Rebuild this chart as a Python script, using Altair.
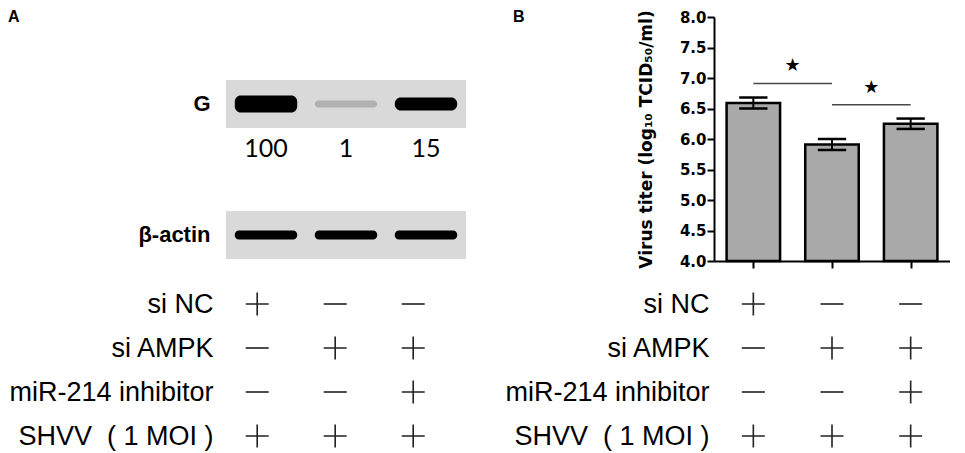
import altair as alt
import pandas as pd

# ---------------- data ----------------
lanes = [1, 2, 3]
blot_rows = ["G", "β-actin"]
g_quant = ["100", "1", "15"]
g_density = [1.0, 0.1, 0.65]
actin_density = [0.92, 0.95, 0.93]

groups = [1, 2, 3]
titer_mean = [6.59, 5.91, 6.25]
titer_err = [0.09, 0.09, 0.085]
sig_from = [1, 2]
sig_to = [2, 3]
sig_level = [6.91, 6.56]
y_ticks = [4.0, 4.5, 5.0, 5.5, 6.0, 6.5, 7.0, 7.5, 8.0]

cond_rows = ["si NC", "si AMPK", "miR-214 inhibitor", "SHVV\u00a0\u00a0(\u00a01 MOI\u00a0)"]
cond_signs = [["+", "−", "−"],
              ["−", "+", "+"],
              ["−", "−", "+"],
              ["+", "+", "+"]]

PLUS = "M-1,0H1M0,-1V1"
MINUS = "M-1,0H1"
SANS = "Liberation Sans"
BOLD_AX = "DejaVu Sans"

# ---------------- tables ----------------
bg_df = pd.DataFrame({"row": blot_rows})
g_df = pd.DataFrame({"lane": lanes, "density": g_density, "quant": g_quant, "row": "G"})
a_df = pd.DataFrame({"lane": lanes, "density": actin_density, "row": "β-actin"})
bar_df = pd.DataFrame({"group": groups, "mean": titer_mean, "err": titer_err})
sig_df = pd.DataFrame({"a": sig_from, "b": sig_to, "level": sig_level})
cond_df = pd.DataFrame([
    {"row": r, "col": c + 1, "sign": cond_signs[i][c]}
    for i, r in enumerate(cond_rows) for c in range(3)
])

# ---------------- panel A: blots ----------------
blot_x = alt.Scale(domain=[0.5, 3.5], nice=False, zero=False)
blot_y = alt.Scale(type="band", domain=blot_rows, paddingInner=0.634,
                   paddingOuter=0.248, align=0.97)
blot_yaxis = alt.Axis(title=None, domain=False, ticks=False, grid=False,
                      labelFont=SANS, labelFontSize=22, labelFontWeight="bold",
                      labelColor="black", labelPadding=16, labelLimit=0)
dens_color = alt.Color("density:Q", legend=None,
                       scale=alt.Scale(domain=[0, 0.6], range=["#d9d9d9", "#000000"], clamp=True))

bg = alt.Chart(bg_df).mark_rect(color="#d9d9d9").encode(
    y=alt.Y("row:N", scale=blot_y, axis=blot_yaxis, sort=None),
    x=alt.value(0), x2=alt.value("width"),
)
g_bands = alt.Chart(g_df).transform_calculate(
    x0="datum.lane - 0.39", x1="datum.lane + 0.39"
).mark_bar(cornerRadius=6).encode(
    x=alt.X("x0:Q", scale=blot_x, axis=None), x2="x1:Q",
    y=alt.Y("row:N", scale=blot_y, axis=blot_yaxis, sort=None),
    size=alt.Size("density:Q", legend=None, scale=alt.Scale(domain=[0, 1], range=[6, 17])),
    color=dens_color,
)
a_bands = alt.Chart(a_df).transform_calculate(
    x0="datum.lane - 0.39", x1="datum.lane + 0.39"
).mark_bar(cornerRadius=4, size=9).encode(
    x=alt.X("x0:Q", scale=blot_x, axis=None), x2="x1:Q",
    y=alt.Y("row:N", scale=blot_y, axis=blot_yaxis, sort=None),
    color=dens_color,
)
nums = alt.Chart(g_df).mark_text(font="Lato", fontSize=25, color="black", dy=45).encode(
    x=alt.X("lane:Q", scale=blot_x, axis=None),
    y=alt.Y("row:N", scale=blot_y, axis=blot_yaxis, sort=None),
    text="quant:N",
)
blot = alt.layer(bg, g_bands, a_bands, nums).properties(
    width=240, height=244,
    title=alt.Title("A", anchor="start", frame="group", dx=-218, dy=21, offset=0,
                    baseline="alphabetic", font=SANS, fontSize=16,
                    fontWeight="bold", color="black"),
)

# ---------------- panel B: bar chart ----------------
bx = alt.Scale(domain=[0.5, 3.5], nice=False, zero=False)
by = alt.Scale(domain=[4, 8], nice=False, zero=False)
xaxis = alt.Axis(values=[1, 2, 3], labels=False, title=None, grid=False,
                 domainColor="black", domainWidth=2, tickColor="black",
                 tickWidth=2, tickSize=7)
yaxis = alt.Axis(values=y_ticks, format=".1f",
                 title="Virus titer (log₁₀ TCID₅₀/ml)",
                 grid=False, domainColor="black", domainWidth=2, tickColor="black",
                 tickWidth=2, tickSize=7, labelPadding=1, labelFont=BOLD_AX,
                 labelFontSize=15, labelFontWeight="bold", labelColor="black",
                 labelOverlap=False,
                 titleFont=BOLD_AX, titleFontSize=17, titleFontWeight="bold",
                 titleColor="black", titlePadding=24)

bars = alt.Chart(bar_df).transform_calculate(
    x0="datum.group - 0.34", x1="datum.group + 0.34"
).mark_rect(color="#a9a9a9", stroke="black", strokeWidth=2.5).encode(
    x=alt.X("x0:Q", scale=bx, axis=xaxis), x2="x1:Q",
    y=alt.Y("mean:Q", scale=by, axis=yaxis), y2=alt.value("height"),
)
err_v = alt.Chart(bar_df).transform_calculate(
    lo="datum.mean - datum.err", hi="datum.mean + datum.err"
).mark_rule(color="black", strokeWidth=2).encode(
    x=alt.X("group:Q", scale=bx, axis=xaxis),
    y=alt.Y("lo:Q", scale=by, axis=yaxis), y2="hi:Q",
)
err_caps = alt.Chart(bar_df).transform_calculate(
    lo="datum.mean - datum.err", hi="datum.mean + datum.err",
    c0="datum.group - 0.18", c1="datum.group + 0.18"
).transform_fold(["lo", "hi"], as_=["end", "yv"]).mark_rule(
    color="black", strokeWidth=2.5
).encode(
    x=alt.X("c0:Q", scale=bx, axis=xaxis), x2="c1:Q",
    y=alt.Y("yv:Q", scale=by, axis=yaxis),
)
sig_lines = alt.Chart(sig_df).mark_rule(color="#4a4a4a", strokeWidth=1.5).encode(
    x=alt.X("a:Q", scale=bx, axis=xaxis), x2="b:Q",
    y=alt.Y("level:Q", scale=by, axis=yaxis),
)
stars = alt.Chart(sig_df).transform_calculate(
    mid="(datum.a + datum.b) / 2"
).mark_text(text="★", font=BOLD_AX, fontSize=18, color="black", dy=-17).encode(
    x=alt.X("mid:Q", scale=bx, axis=xaxis), y=alt.Y("level:Q", scale=by, axis=yaxis),
)
bar = alt.layer(bars, err_v, err_caps, sig_lines, stars).properties(
    width=236, height=244,
    title=alt.Title("B", anchor="start", frame="group", dx=-201, dy=28, offset=0,
                    baseline="alphabetic", font=SANS, fontSize=16,
                    fontWeight="bold", color="black"),
)

# ---------------- condition tables ----------------
def cond_table(domain, width, pad):
    return alt.Chart(cond_df).mark_point(
        filled=False, color="#222222", strokeWidth=1.6, opacity=1, size=529
    ).encode(
        x=alt.X("col:Q", scale=alt.Scale(domain=domain, nice=False, zero=False), axis=None),
        y=alt.Y("row:N", sort=cond_rows, scale=alt.Scale(domain=cond_rows),
                axis=alt.Axis(title=None, domain=False, ticks=False, grid=False,
                              labelFont=SANS, labelFontSize=27, labelColor="black",
                              labelPadding=pad, labelLimit=0)),
        shape=alt.Shape("sign:N", legend=None,
                        scale=alt.Scale(domain=["+", "−"], range=[PLUS, MINUS])),
    ).properties(width=width, height=176)

table_a = cond_table([0.6, 3.6], 234, 13)
table_b = cond_table([0.5, 3.5], 236, 5)

chart = alt.concat(
    blot, bar, table_a, table_b, columns=2, bounds="flush",
    spacing=alt.RowColnumber(row=21, column=248),
).properties(padding=0).configure_view(stroke=None)

chart.save("out.html", embed_options={"renderer": "svg", "actions": False})
